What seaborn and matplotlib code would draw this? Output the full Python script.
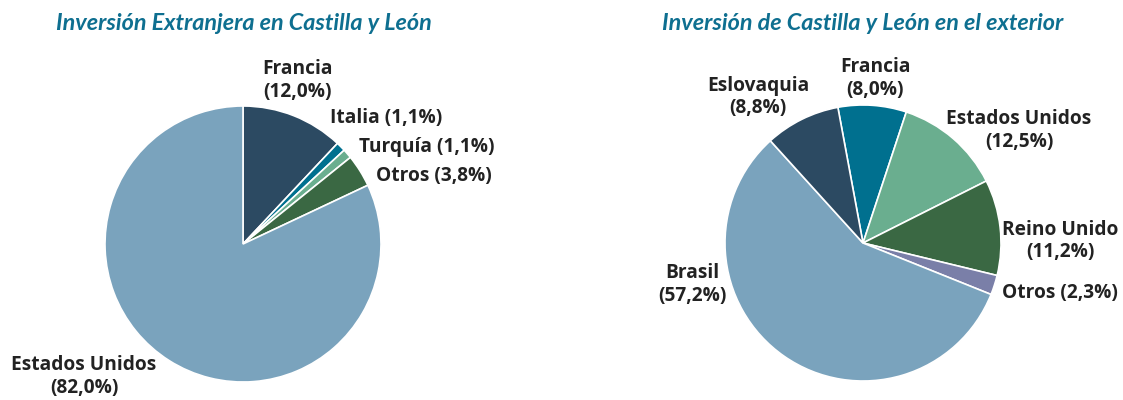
import matplotlib
matplotlib.use("Agg")
import matplotlib.pyplot as plt
import seaborn as sns

sns.set_theme(style="white")
plt.rcParams['font.family'] = ['Open Sans', 'DejaVu Sans']

# Data
left_title = "Inversión Extranjera en Castilla y León"
left_labels = ["Francia", "Italia", "Turquía", "Otros", "Estados Unidos"]
left_values = [12.0, 1.1, 1.1, 3.8, 82.0]
left_colors = ["#2c4a62", "#00708f", "#6aae8f", "#3a6843", "#7aa3bd"]

right_title = "Inversión de Castilla y León en el exterior"
right_labels = ["Francia", "Estados Unidos", "Reino Unido", "Otros", "Brasil", "Eslovaquia"]
right_values = [8.0, 12.5, 11.2, 2.3, 57.2, 8.8]
right_colors = ["#00708f", "#6aae8f", "#3a6843", "#7a7fa8", "#7aa3bd", "#2c4a62"]

W, H = 1123, 400
R = 138.0
fig = plt.figure(figsize=(W / 100, H / 100), dpi=100)
title_color = "#0e6f90"
text_color = "#222222"


def fmt(v):
    return f"{v:.1f}".replace(".", ",") + "%"


def make_axes(x0, x1):
    ax = fig.add_axes([x0 / W, 0, (x1 - x0) / W, 1])
    ax.axis("off")
    return ax


def fix_limits(ax, x0, x1, cx, cy):
    ax.set_xlim(-(cx - x0) / R, (x1 - cx) / R)
    ax.set_ylim(-(H - cy) / R, cy / R)
    ax.set_aspect("auto")


def put(ax, cx, cy, px, py, s, ha="center"):
    ax.text((px - cx) / R, (cy - py) / R, s, ha=ha, va="center",
            fontsize=13.8, fontweight="bold", color=text_color, linespacing=1.2,
            family=['Open Sans', 'DejaVu Sans'])


def title(ax, cx, cy, px, py, s):
    ax.text((px - cx) / R, (cy - py) / R, s, ha="center", va="center",
            fontsize=16.8, fontweight="bold", fontstyle="italic", color=title_color,
            family=['Lato', 'DejaVu Sans'])


# Left pie
lcx, lcy = 243, 244
axl = make_axes(0, 561)
axl.pie(left_values, colors=left_colors, startangle=90, counterclock=False,
        radius=1, wedgeprops=dict(edgecolor="white", linewidth=1.2))
fix_limits(axl, 0, 561, lcx, lcy)
title(axl, lcx, lcy, 244, 24, left_title)
put(axl, lcx, lcy, 297, 81, f"{left_labels[0]}\n({fmt(left_values[0])})")
put(axl, lcx, lcy, 330, 118, f"{left_labels[1]} ({fmt(left_values[1])})", ha="left")
put(axl, lcx, lcy, 359, 147, f"{left_labels[2]} ({fmt(left_values[2])})", ha="left")
put(axl, lcx, lcy, 376, 176, f"{left_labels[3]} ({fmt(left_values[3])})", ha="left")
put(axl, lcx, lcy, 84, 377, f"{left_labels[4]}\n({fmt(left_values[4])})")

# Right pie
rcx, rcy = 863, 243
axr = make_axes(561, 1123)
axr.pie(right_values, colors=right_colors, startangle=100.5, counterclock=False,
        radius=1, wedgeprops=dict(edgecolor="white", linewidth=1.2))
fix_limits(axr, 561, 1123, rcx, rcy)
title(axr, rcx, rcy, 863, 24, right_title)
put(axr, rcx, rcy, 875, 79, f"{right_labels[0]}\n({fmt(right_values[0])})")
put(axr, rcx, rcy, 1019, 131, f"{right_labels[1]}\n({fmt(right_values[1])})")
put(axr, rcx, rcy, 1060, 241, f"{right_labels[2]}\n({fmt(right_values[2])})")
put(axr, rcx, rcy, 1002, 293, f"{right_labels[3]} ({fmt(right_values[3])})", ha="left")
put(axr, rcx, rcy, 692, 285, f"{right_labels[4]}\n({fmt(right_values[4])})")
put(axr, rcx, rcy, 758, 97, f"{right_labels[5]}\n({fmt(right_values[5])})")

fig.savefig("out.png", dpi=100, facecolor="white")
